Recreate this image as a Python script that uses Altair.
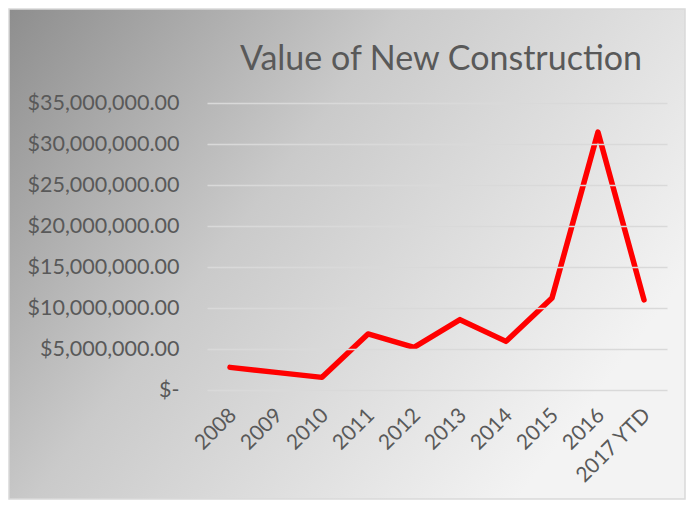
import altair as alt
import pandas as pd

years = ["2008", "2009", "2010", "2011", "2012", "2013", "2014", "2015", "2016", "2017 YTD"]
values = [2760000, 2150000, 1540000, 6840000, 5200000, 8580000, 5930000, 11230000, 31450000, 10990000]
y_ticks = [0, 5000000, 10000000, 15000000, 20000000, 25000000, 30000000, 35000000]

df = pd.DataFrame({"year": years, "value": values})

W, H = 460, 287
PL, PT, PR, PB = 199, 95, 19, 110

grad = alt.Gradient(
    gradient="linear",
    stops=[
        alt.GradientStop(color="#8e8e8e", offset=0),
        alt.GradientStop(color="#cacaca", offset=0.45),
        alt.GradientStop(color="#f3f3f3", offset=1),
    ],
    x1=0, y1=0, x2=1, y2=0.55,
)

bg = alt.Chart(pd.DataFrame({"a": [0]})).mark_rect(
    fill=grad, stroke="#d9d9d9", strokeWidth=1.5
).encode(
    x=alt.value(-PL + 1), x2=alt.value(W + PR - 1),
    y=alt.value(-PT + 1), y2=alt.value(H + PB - 1),
)

line = alt.Chart(df).mark_line(
    color="#ff0000", strokeWidth=5.5, strokeCap="round", strokeJoin="round"
).encode(
    x=alt.X("year:N", sort=years, title=None,
            axis=alt.Axis(labelAngle=-45, labelFontSize=21, labelColor="#595959",
                          labelFont="Lato", domain=False, ticks=False, labelPadding=14,
                          labelOffset=-5, zindex=1)),
    y=alt.Y("value:Q", scale=alt.Scale(domain=[0, 35000000], nice=False), title=None,
            axis=alt.Axis(values=y_ticks, labelFontSize=21.5, labelColor="#595959",
                          labelFont="Lato", domain=False, ticks=False, labelPadding=28,
                          gridColor="#d9d9d9", gridWidth=1.5, zindex=1,
                          labelExpr="datum.value == 0 ? '$-\u00a0\u00a0\u00a0' : '$' + format(datum.value, ',.2f')")),
)

chart = alt.layer(bg, line).properties(
    width=W, height=H,
    autosize=alt.AutoSizeParams(type="none"),
    padding={"left": PL, "top": PT, "right": PR, "bottom": PB},
    title=alt.TitleParams("Value of New Construction", fontSize=34, font="Lato",
                          fontWeight="normal", color="#595959", offset=-96, dx=4,
                          anchor="middle", baseline="alphabetic", zindex=2),
).configure_view(stroke=None).configure(background="#ffffff")

chart.save("out.html", embed_options={"renderer": "svg", "actions": False})
